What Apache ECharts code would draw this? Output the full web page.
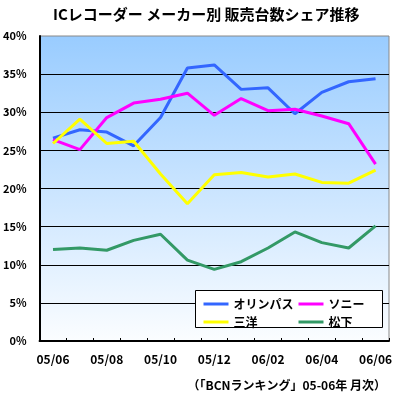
<!DOCTYPE html>
<html>
<head>
<meta charset="utf-8">
<script src="https://cdn.jsdelivr.net/npm/echarts@6/dist/echarts.min.js"></script>
<style>
  html, body { margin: 0; padding: 0; background: #fff; }
  #chart { width: 397px; height: 402px; }
</style>
</head>
<body>
<div id="chart"></div>
<script>
// 月次 05/06 .. 06/06
var months = ['05/06', '05/07', '05/08', '05/09', '05/10', '05/11', '05/12',
              '06/01', '06/02', '06/03', '06/04', '06/05', '06/06']
var olympus = [26.6, 27.7, 27.4, 25.6, 29.3, 35.8, 36.2, 33.0, 33.2, 29.8, 32.6, 34.0, 34.4]
var sony    = [26.4, 25.1, 29.3, 31.2, 31.7, 32.5, 29.6, 31.8, 30.2, 30.4, 29.5, 28.5, 23.2]
var sanyo   = [25.9, 29.1, 25.9, 26.2, 21.9, 18.0, 21.8, 22.1, 21.5, 21.9, 20.8, 20.7, 22.4]
var matsu   = [12.0, 12.2, 11.9, 13.2, 14.0, 10.6, 9.4, 10.4, 12.2, 14.3, 12.9, 12.2, 15.1]

var FONT = '"Noto Sans CJK JP", "Noto Sans", sans-serif'

var chart = echarts.init(document.getElementById('chart'))

function line(name, data, color) {
  return {
    name: name, type: 'line', data: data,
    symbol: 'none', animation: false,
    lineStyle: { width: 3, color: color },
    itemStyle: { color: color }
  }
}

var legendText = { fontSize: 12, fontWeight: 'bold', color: '#000', lineHeight: 14, fontFamily: FONT }

var option = {
  animation: false,
  textStyle: { fontFamily: FONT },
  title: [
    {
      text: 'ICレコーダー メーカー別 販売台数シェア推移',
      left: 48, top: 2,
      textStyle: { fontSize: 15, fontWeight: 'bold', color: '#000', fontFamily: FONT }
    },
    {
      text: '（「BCNランキング」05-06年 月次）',
      right: 6, top: 374,
      textStyle: { fontSize: 12, fontWeight: 'bold', color: '#000', fontFamily: FONT }
    }
  ],
  grid: {
    left: 36, top: 36, right: 8, bottom: 61,
    show: true,
    borderColor: '#888', borderWidth: 1,
    backgroundColor: new echarts.graphic.LinearGradient(0, 0, 0, 1, [
      { offset: 0, color: '#99ccff' },
      { offset: 1, color: '#fbfdff' }
    ])
  },
  xAxis: {
    type: 'category',
    data: months,
    boundaryGap: true,
    axisLine: { lineStyle: { color: '#000', width: 2 } },
    axisTick: { show: true, inside: true, length: 3, interval: 0, lineStyle: { color: '#000' } },
    axisLabel: {
      interval: 1, margin: 12, color: '#000',
      fontSize: 12, fontWeight: 'bold', fontFamily: FONT
    },
    splitLine: { show: false }
  },
  yAxis: {
    type: 'value',
    min: 0, max: 40, interval: 5,
    axisLine: { show: true, lineStyle: { color: '#000', width: 2 } },
    axisTick: { show: false },
    axisLabel: {
      formatter: '{value}%', margin: 13, color: '#000',
      fontSize: 11, fontWeight: 'bold', fontFamily: FONT
    },
    splitLine: { show: true, showMaxLine: false, lineStyle: { color: '#000', width: 1 } }
  },
  legend: [
    {
      orient: 'vertical', left: 197, top: 292,
      data: ['オリンパス', '三洋'],
      itemWidth: 25, itemHeight: 14, itemGap: 4,
      itemStyle: { opacity: 0 },
      lineStyle: { width: 3 },
      textStyle: legendText,
      z: 5
    },
    {
      orient: 'vertical', left: 292, top: 292,
      data: ['ソニー', '松下'],
      itemWidth: 25, itemHeight: 14, itemGap: 4,
      itemStyle: { opacity: 0 },
      lineStyle: { width: 3 },
      textStyle: legendText,
      z: 5
    }
  ],
  graphic: [
    {
      type: 'rect', z: 3,
      shape: { x: 195.5, y: 290.5, width: 187, height: 37 },
      style: { fill: '#fff', stroke: '#000', lineWidth: 1 }
    }
  ],
  series: [
    line('オリンパス', olympus, '#3366ff'),
    line('ソニー', sony, '#ff00ff'),
    line('三洋', sanyo, '#ffff00'),
    line('松下', matsu, '#339966')
  ]
}

chart.setOption(option)
</script>
</body>
</html>
